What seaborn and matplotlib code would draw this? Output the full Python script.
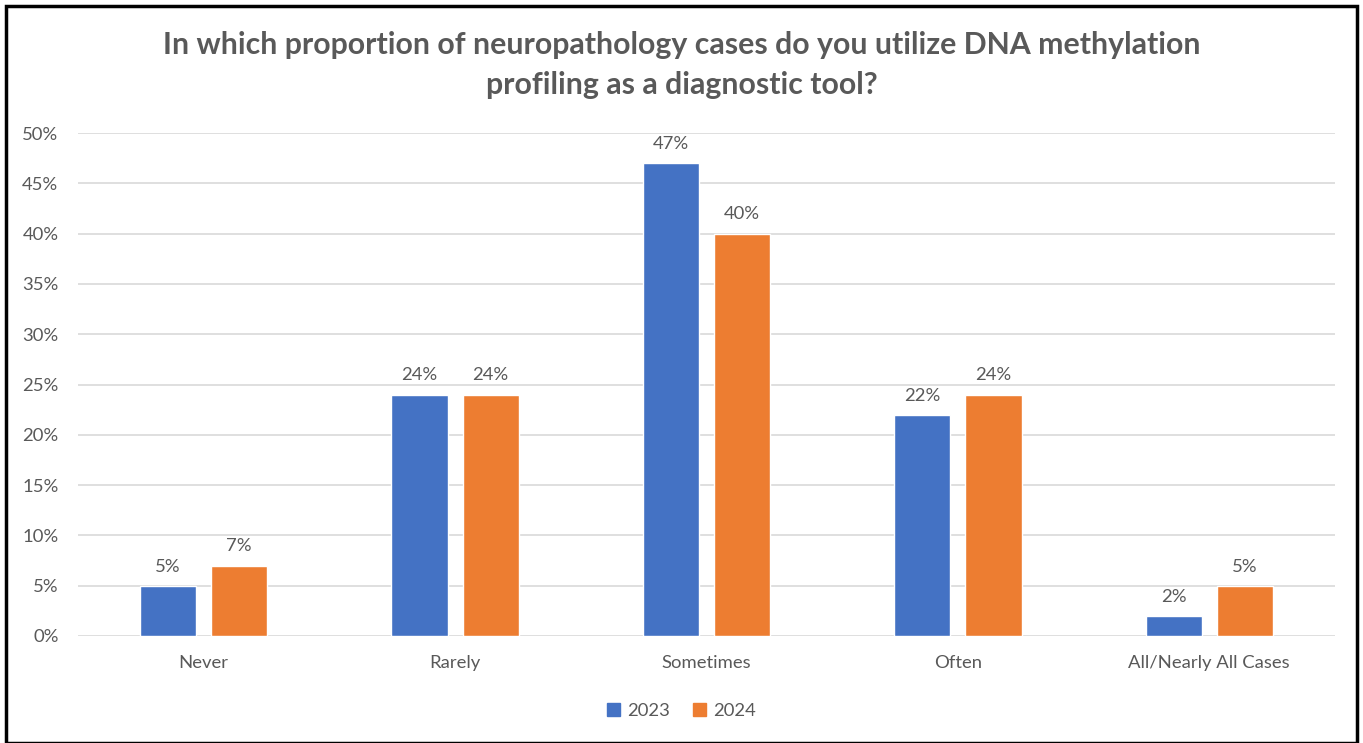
import pandas as pd
import numpy as np
import seaborn as sns
import matplotlib.pyplot as plt
from matplotlib.patches import Rectangle
from matplotlib.ticker import PercentFormatter

categories=["Never","Rarely","Sometimes","Often","All/Nearly All Cases"]
years=["2023","2024"]
values_2023=[0.05,0.24,0.47,0.22,0.02]
values_2024=[0.07,0.24,0.40,0.24,0.05]
colors=["#4472C4","#ED7D31"]
text_color="#595959"

df=pd.DataFrame({"Category":categories*2,"Year":[years[0]]*5+[years[1]]*5,"Value":values_2023+values_2024})

sns.set_style("white")
plt.rcParams['font.family']=['Lato','DejaVu Sans']

fig=plt.figure(figsize=(13.63,7.43),dpi=100)
ax=fig.add_axes([78/1363,1-636/743,(1335-78)/1363,(636-133)/743])
sns.barplot(data=df,x="Category",y="Value",hue="Year",order=categories,hue_order=years,palette=colors,width=0.566,gap=0.21,saturation=1,ax=ax,legend=False)

for container in ax.containers:
    ax.bar_label(container,labels=[f"{v*100:.0f}%" for v in container.datavalues],padding=8,color=text_color,fontsize=13.3)

ax.set_ylim(0,0.5)
ax.set_xlim(-0.5,4.5)
ax.set_yticks(np.arange(0,0.51,0.05))
ax.yaxis.set_major_formatter(PercentFormatter(1.0,decimals=0))
ax.grid(axis="y",color="#D9D9D9",linewidth=1.2)
ax.set_axisbelow(True)
for s in ax.spines.values():
    s.set_visible(False)
ax.tick_params(axis="both",length=0,labelsize=13.3,labelcolor=text_color)
ax.tick_params(axis="y",pad=14)
ax.tick_params(axis="x",pad=14)
ax.set_xlabel("")
ax.set_ylabel("")

fig.text(0.5,1-45/743,"In which proportion of neuropathology cases do you utilize DNA methylation",ha="center",va="center",fontsize=21.8,fontweight="bold",color=text_color)
fig.text(0.5,1-85/743,"profiling as a diagnostic tool?",ha="center",va="center",fontsize=21.8,fontweight="bold",color=text_color)

handles=[Rectangle((0,0),1,1,color=c) for c in colors]
fig.legend(handles,years,loc="center",bbox_to_anchor=(0.5,1-711/743),ncol=2,frameon=False,fontsize=13.3,labelcolor=text_color,handlelength=0.7,handleheight=0.7,handletextpad=0.4,columnspacing=1.2)

fig.add_artist(Rectangle((6/1363,0),(1357-6)/1363,1-6/743,transform=fig.transFigure,fill=False,edgecolor="black",linewidth=2.5))

fig.savefig("out.png",dpi=100)
